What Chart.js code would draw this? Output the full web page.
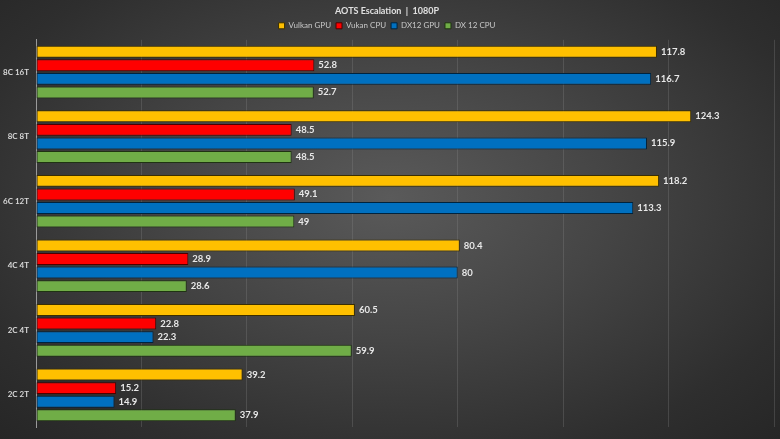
<!DOCTYPE html>
<html>
<head>
<meta charset="utf-8">
<script src="https://cdn.jsdelivr.net/npm/chart.js@4.4.1/dist/chart.umd.min.js"></script>
<style>
  html, body { margin: 0; padding: 0; }
  body {
    width: 780px; height: 439px; overflow: hidden;
    background: radial-gradient(ellipse at 50% 45%, #5a5a5a 0%, #454545 40%, #2e2e2e 80%, #262626 100%);
  }
  #wrap { position: relative; width: 780px; height: 439px; }
</style>
</head>
<body>
<div id="wrap"><canvas id="c"></canvas></div>
<script>
const categories = ["8C 16T", "8C 8T", "6C 12T", "4C 4T", "2C 4T", "2C 2T"];
const vulkanGpu = [117.8, 124.3, 118.2, 80.4, 60.5, 39.2];
const vulkanCpu = [52.8, 48.5, 49.1, 28.9, 22.8, 15.2];
const dx12Gpu = [116.7, 115.9, 113.3, 80, 22.3, 14.9];
const dx12Cpu = [52.7, 48.5, 49, 28.6, 59.9, 37.9];

const FONT = "Lato, 'Open Sans', sans-serif";

// draw value text at the end of each bar
const valueLabels = {
  id: "valueLabels",
  afterDatasetsDraw(chart) {
    const ctx = chart.ctx;
    ctx.save();
    ctx.font = `bold 9.5px ${FONT}`;
    ctx.fillStyle = "#e8e8e8";
    ctx.textBaseline = "middle";
    ctx.textAlign = "left";
    chart.data.datasets.forEach((ds, i) => {
      chart.getDatasetMeta(i).data.forEach((bar, j) => {
        ctx.fillText(String(ds.data[j]), bar.x + 4, bar.y);
      });
    });
    ctx.restore();
  },
};

function series(label, data, color, border) {
  return {
    label, data,
    backgroundColor: color,
    borderColor: border,
    borderWidth: 1,
    borderSkipped: false,
    categoryPercentage: 0.84,
    barPercentage: 0.88,
  };
}

new Chart(document.getElementById("c"), {
  type: "bar",
  data: {
    labels: categories,
    datasets: [
      series("Vulkan GPU", vulkanGpu, "#ffc000", "#3a2e00"),
      series("Vukan CPU", vulkanCpu, "#ff0000", "#4a0000"),
      series("DX12 GPU", dx12Gpu, "#0070c0", "#00233d"),
      series("DX 12 CPU", dx12Cpu, "#70ad47", "#1f3312"),
    ],
  },
  options: {
    indexAxis: "y",
    animation: false,
    responsive: true,
    maintainAspectRatio: false,
    layout: { padding: { left: 0, right: 6, top: 0, bottom: 0 } },
    plugins: {
      title: {
        display: true,
        text: "AOTS Escalation  |  1080P",
        color: "#e0e0e0",
        font: { family: FONT, size: 9, weight: "bold" },
        padding: { top: 6, bottom: 0 },
      },
      legend: {
        labels: {
          color: "#c8c8c8",
          boxWidth: 6, boxHeight: 6,
          padding: 5,
          font: { family: FONT, size: 8 },
        },
      },
      tooltip: { enabled: false },
    },
    scales: {
      x: {
        min: 0, max: 140,
        afterFit(scale) { scale.height = 0; },
        ticks: { display: false, stepSize: 20, padding: 0 },
        grid: { color: "rgba(140,140,140,0.28)", drawTicks: false, tickLength: 0 },
        border: { display: false },
      },
      y: {
        afterFit(scale) { scale.width = 36; },
        ticks: { color: "#d8d8d8", font: { family: FONT, size: 8, weight: "bold" }, padding: 7 },
        grid: { display: false, drawTicks: false },
        border: { color: "#9a9a9a", width: 1 },
      },
    },
  },
  plugins: [valueLabels],
});
</script>
</body>
</html>
